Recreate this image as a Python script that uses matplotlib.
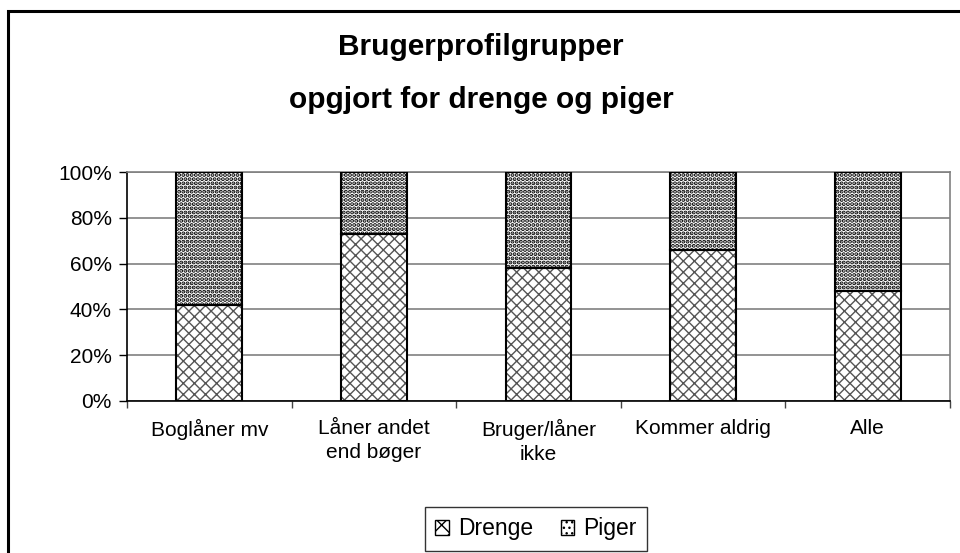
import numpy as np
import matplotlib.pyplot as plt
from matplotlib.patches import Rectangle, Patch

plt.rcParams['font.family'] = ['Liberation Sans', 'DejaVu Sans']

categories = ['Boglåner mv', 'Låner andet\nend bøger', 'Bruger/låner\nikke', 'Kommer aldrig', 'Alle']
drenge = [42, 73, 58, 66, 48]
piger = [58, 27, 42, 34, 52]
yticks = [0, 20, 40, 60, 80, 100]

fig = plt.figure(figsize=(9.6, 5.53), dpi=100)
ax = fig.add_axes([127/960, 1-401/553, 823/960, 229/553])

x = np.arange(len(categories))
w = 0.4

# hatch fill first, black outline on top
with plt.rc_context({'hatch.linewidth': 1.0}):
    ax.bar(x, drenge, w, color='white', edgecolor='#555555', hatch='xxx', linewidth=0, zorder=2)
with plt.rc_context({'hatch.linewidth': 2.0}):
    ax.bar(x, piger, w, bottom=drenge, color='white', edgecolor='black', hatch='....', linewidth=0, zorder=2)
ax.bar(x, drenge, w, fill=False, edgecolor='black', linewidth=1.5, zorder=3)
ax.bar(x, piger, w, bottom=drenge, fill=False, edgecolor='black', linewidth=1.5, zorder=3)

ax.set_xlim(-0.5, len(categories) - 0.5)
ax.set_ylim(0, 100)
ax.set_yticks(yticks)
ax.set_yticklabels([str(v) + '%' for v in yticks], fontsize=15)
ax.yaxis.grid(True, color='#808080', linewidth=1.2, zorder=0)
ax.set_axisbelow(True)

ax.set_xticks(x)
ax.set_xticklabels(categories, fontsize=15, linespacing=1.3)
ax.tick_params(axis='x', length=0, pad=13)
ax.set_xticks(np.arange(len(categories) + 1) - 0.5, minor=True)
ax.tick_params(axis='x', which='minor', length=5, width=1, color='#444444', direction='out')
ax.tick_params(axis='y', length=6, width=1, direction='out', pad=5)

for s in ['left', 'bottom']:
    ax.spines[s].set_color('black')
    ax.spines[s].set_linewidth(1.2)
for s in ['top', 'right']:
    ax.spines[s].set_color('#808080')
    ax.spines[s].set_linewidth(1.2)

fig.text(481/960, 1-47/553, 'Brugerprofilgrupper', ha='center', va='center', fontsize=21.5, fontweight='bold')
fig.text(481/960, 1-100/553, 'opgjort for drenge og piger', ha='center', va='center', fontsize=21.5, fontweight='bold')

h1 = Patch(facecolor='white', edgecolor='black', hatch='xx', linewidth=1)
h2 = Patch(facecolor='white', edgecolor='black', hatch='...', linewidth=1)
leg = fig.legend([h1, h2], ['Drenge', 'Piger'], loc='upper center', bbox_to_anchor=(536/960, 1-507/553),
                 ncol=2, fontsize=16.5, frameon=True, fancybox=False, edgecolor='black',
                 handlelength=0.6, handleheight=0.6, handletextpad=0.4, columnspacing=1.2,
                 borderpad=0.45, borderaxespad=0)
leg.get_frame().set_linewidth(1.0)

fig.patches.append(Rectangle((7.5/960, -0.1), 1.2, 1 - 10.5/553 + 0.1, transform=fig.transFigure,
                             fill=False, edgecolor='black', linewidth=2.2, figure=fig))

fig.savefig('out.png', dpi=100)
